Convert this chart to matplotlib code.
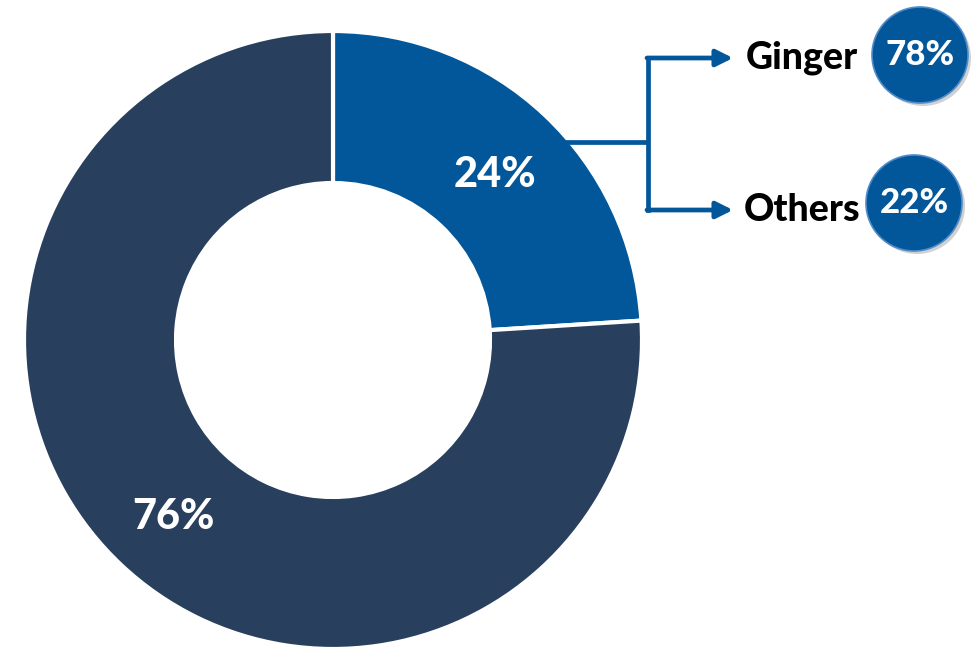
import matplotlib.pyplot as plt
from matplotlib.patches import Circle

# main donut
slice_labels = ["Ginger & others", "Rest"]
slice_values = [24, 76]

# breakdown of the highlighted slice
sub_labels = ["Ginger", "Others"]
sub_values = [78, 22]

BLUE = "#02579B"
DARK = "#283F5E"
FONT = ["Lato", "DejaVu Sans"]
WEIGHT = 900

W, H = 973, 651


def py(y):
    # pixel row from top -> data y
    return H - y


fig = plt.figure(figsize=(W / 100, H / 100), dpi=100)
ax = fig.add_axes([0, 0, 1, 1])

outer_r = 309
inner_r = 157
wedges, _, autotexts = ax.pie(
    slice_values,
    colors=[BLUE, DARK],
    startangle=90,
    counterclock=False,
    center=(333, py(340)),
    radius=outer_r,
    autopct="%.0f%%",
    pctdistance=0.76,
    wedgeprops=dict(width=outer_r - inner_r, edgecolor="white", linewidth=3),
    frame=True,
)
for t in autotexts:
    t.set_color("white")
    t.set_fontsize(30)
    t.set_fontweight(WEIGHT)
    t.set_family(FONT)
    x, y = t.get_position()
    t.set_position((x + 1, y - 6))
ax.set_xlim(0, W)
ax.set_ylim(0, H)
ax.set_aspect("equal")
ax.axis("off")

# connector from the blue slice to the breakdown
lw = 3.4
rows_y = [58, 210]
ax.plot([563, 648], [py(142), py(142)], color=BLUE, lw=lw, solid_capstyle="butt", zorder=3)
ax.plot([648, 648], [py(rows_y[0]), py(rows_y[1])], color=BLUE, lw=lw,
        solid_capstyle="projecting", zorder=3)

circle_x = [920, 914]
circle_y = [55, 203]
for i, (lab, val) in enumerate(zip(sub_labels, sub_values)):
    y = py(rows_y[i])
    ax.annotate(
        "",
        xy=(733, y),
        xytext=(647, y),
        arrowprops=dict(
            arrowstyle="-|>,head_length=1.0,head_width=0.5",
            color=BLUE,
            lw=lw,
            shrinkA=0,
            shrinkB=0,
        ),
        zorder=3,
    )
    ax.text(
        802, y, lab,
        ha="center", va="center",
        fontsize=27, fontweight=WEIGHT, color="black", family=FONT,
    )
    cx, cy = circle_x[i], py(circle_y[i])
    ax.add_patch(Circle((cx + 3, cy - 3), 48, color="#000000", alpha=0.18, lw=0, zorder=4))
    ax.add_patch(Circle((cx, cy), 48, facecolor=BLUE, edgecolor="#4F8BC9", lw=1.2, zorder=5))
    ax.text(
        cx, cy, f"{val}%",
        ha="center", va="center",
        fontsize=25, fontweight=WEIGHT, color="white", family=FONT, zorder=6,
    )

fig.savefig("out.png", dpi=100)
